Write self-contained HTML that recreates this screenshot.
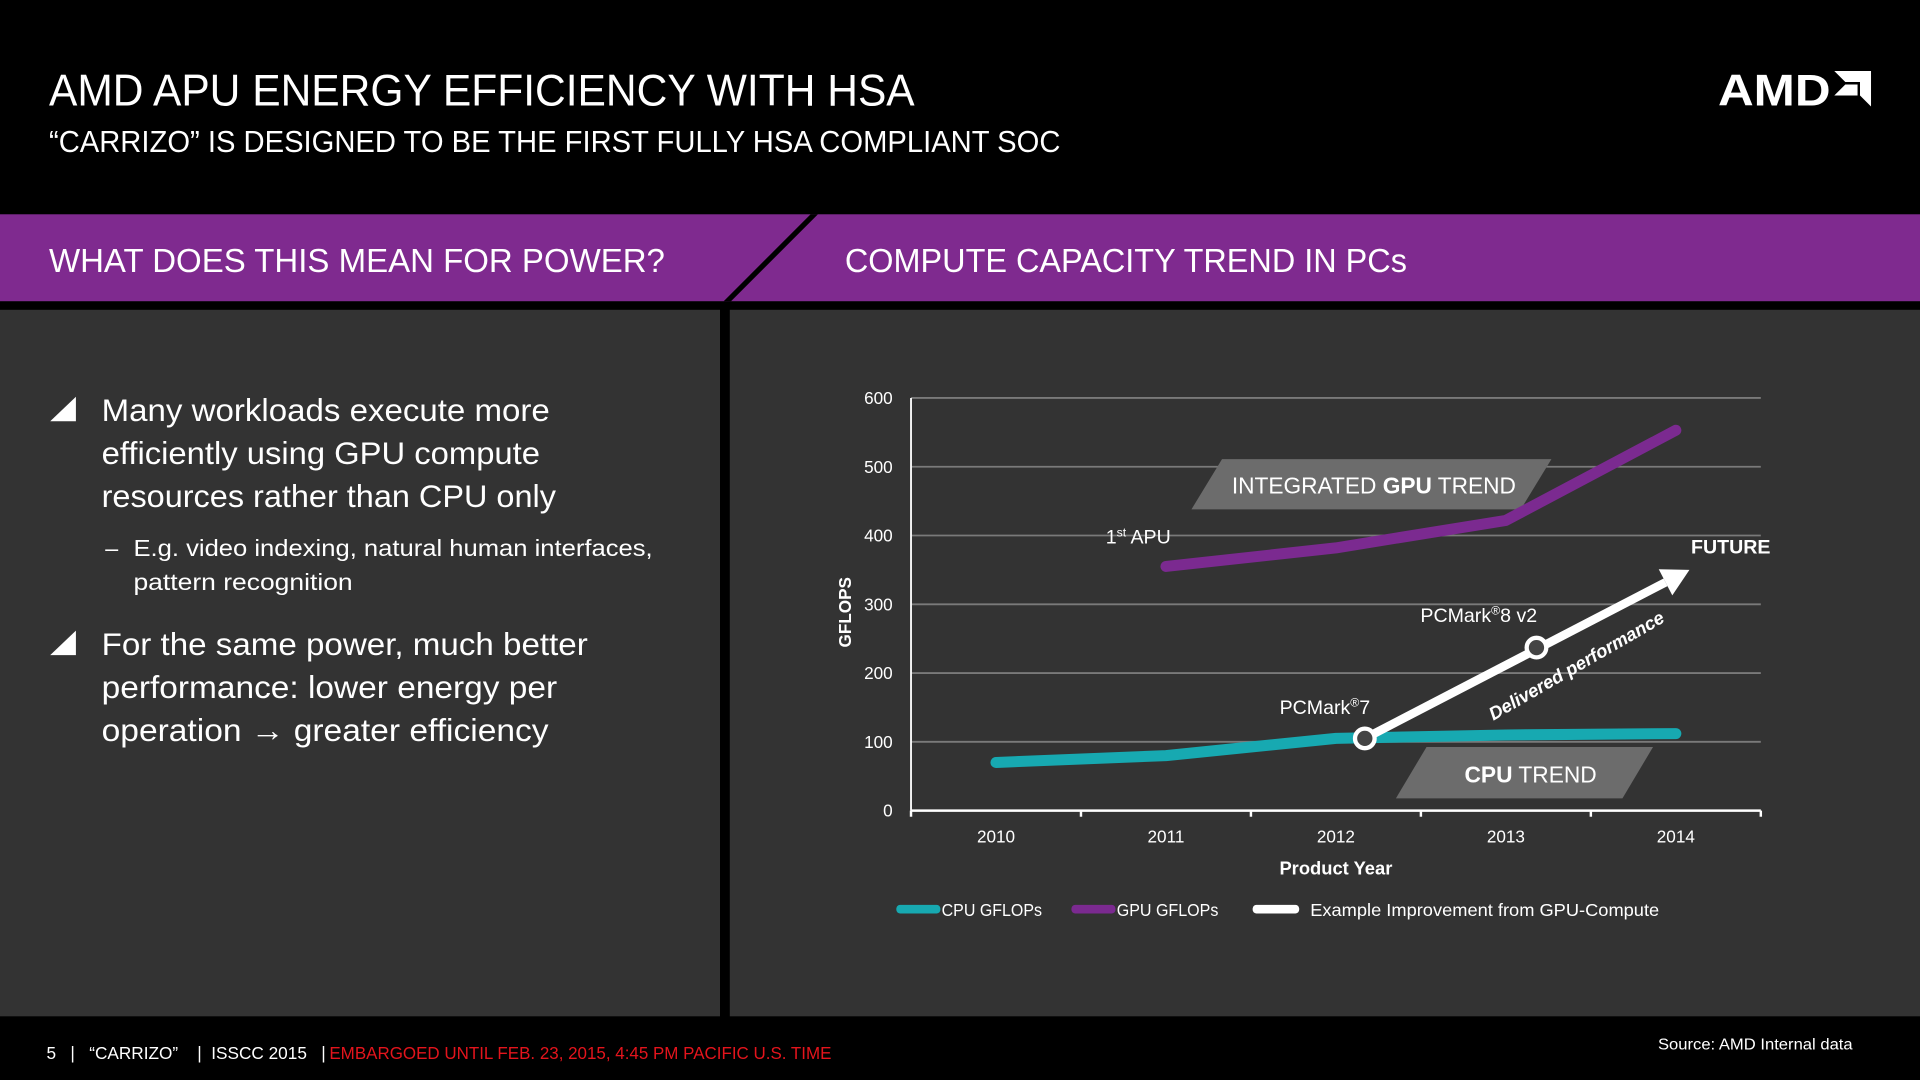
<!DOCTYPE html>
<html><head><meta charset="utf-8"><style>
html,body{margin:0;padding:0;background:#000;width:1920px;height:1080px;overflow:hidden}
svg{display:block;font-family:"Liberation Sans",sans-serif}
</style></head><body>
<svg id="slide" width="1920" height="1080" viewBox="0 0 1568 882" xmlns="http://www.w3.org/2000/svg">
<rect x="0" y="0" width="1568" height="882" fill="#000"/>
<text x="40" y="86" fill="#fff" font-size="36" textLength="707" lengthAdjust="spacingAndGlyphs">AMD APU ENERGY EFFICIENCY WITH HSA</text>
<text x="40" y="124" fill="#fff" font-size="25" textLength="826" lengthAdjust="spacingAndGlyphs">“CARRIZO” IS DESIGNED TO BE THE FIRST FULLY HSA COMPLIANT SOC</text>
<g>
<text x="1403" y="86" fill="#fff" font-size="36" font-weight="bold" textLength="92" lengthAdjust="spacingAndGlyphs">AMD</text>
<path d="M1498 58 L1528 58 L1528 87 L1519 78 L1519 67 L1507 67 Z M1498 78 L1507 69 L1517 69 L1517 78 Z" fill="#fff"/>
</g>
<rect x="0" y="175" width="1568" height="71" fill="#7f2a8f"/>
<polygon points="662,175 668,175 597,246 591,246" fill="#000"/>
<text x="40" y="222" fill="#fff" font-size="27" textLength="503" lengthAdjust="spacingAndGlyphs">WHAT DOES THIS MEAN FOR POWER?</text>
<text x="690" y="222" fill="#fff" font-size="27" textLength="459" lengthAdjust="spacingAndGlyphs">COMPUTE CAPACITY TREND IN PCs</text>
<rect x="0" y="253" width="588" height="577" fill="#333333"/>
<rect x="596" y="253" width="972" height="577" fill="#333333"/>
<g fill="#fff">
<polygon points="62,324 62,344 41,344" fill="#fff"/>
<text x="83" y="344" font-size="26" textLength="366" lengthAdjust="spacingAndGlyphs">Many workloads execute more</text>
<text x="83" y="379" font-size="26" textLength="358" lengthAdjust="spacingAndGlyphs">efficiently using GPU compute</text>
<text x="83" y="414" font-size="26" textLength="371" lengthAdjust="spacingAndGlyphs">resources rather than CPU only</text>
<text x="86" y="454" font-size="19">–</text>
<text x="109" y="454" font-size="19" textLength="424" lengthAdjust="spacingAndGlyphs">E.g. video indexing, natural human interfaces,</text>
<text x="109" y="482" font-size="19" textLength="179" lengthAdjust="spacingAndGlyphs">pattern recognition</text>
<polygon points="62,515 62,535 41,535" fill="#fff"/>
<text x="83" y="535" font-size="26" textLength="397" lengthAdjust="spacingAndGlyphs">For the same power, much better</text>
<text x="83" y="570" font-size="26" textLength="372" lengthAdjust="spacingAndGlyphs">performance: lower energy per</text>
<text x="83" y="605" font-size="26" textLength="365" lengthAdjust="spacingAndGlyphs">operation <tspan font-weight="bold">→</tspan> greater efficiency</text>
</g>
<g id="chart"></g>
<text x="38" y="865" fill="#fff" font-size="14" style="white-space:pre" xml:space="preserve" textLength="228" lengthAdjust="spacingAndGlyphs">5   |   “CARRIZO”    |  ISSCC 2015   |</text>
<text x="269" y="865" fill="#e3141c" font-size="14" textLength="410" lengthAdjust="spacingAndGlyphs">EMBARGOED UNTIL FEB. 23, 2015, 4:45 PM PACIFIC U.S. TIME</text>
<text x="1354" y="857" fill="#fff" font-size="13" textLength="159" lengthAdjust="spacingAndGlyphs">Source: AMD Internal data</text>
</svg>
<script>
const years = [2010, 2011, 2012, 2013, 2014];
const cpuValues = [70, 80, 105, 110, 112];
const gpuYears = [2011, 2012, 2013, 2014];
const gpuValues = [355, 382, 422, 553];
const arrowYears = [2012.17, 2013.18, 2014.08];
const arrowValues = [105, 237, 350];
const yTicks = [0, 100, 200, 300, 400, 500, 600];

const NS = 'http://www.w3.org/2000/svg';
const chart = document.getElementById('chart');
const X0 = 744, X1 = 1438, Y0 = 662, Y1 = 325, YMAX = 600;
const band = (X1 - X0) / years.length;
function xs(yr){ return X0 + band * (yr - years[0] + 0.5); }
function ys(v){ return Y0 - (v / YMAX) * (Y0 - Y1); }
function mk(tag, attrs, parent){
  const e = document.createElementNS(NS, tag);
  for (const k in attrs) e.setAttribute(k, attrs[k]);
  (parent || chart).appendChild(e);
  return e;
}
let e;
yTicks.forEach(t => {
  if (t > 0) {
    e = mk('line', {x1: X0, x2: X1, y1: ys(t), y2: ys(t), stroke: '#7a7a7a', 'stroke-width': 1.5});
    
    
  }
  e = mk('text', {x: 729, y: ys(t) + 5, fill: '#fff', 'font-size': 14, 'text-anchor': 'end'});
  e.textContent = t;
  
  
});
e = mk('line', {x1: X0, x2: X0, y1: Y1, y2: Y0, stroke: '#fff', 'stroke-width': 1.5});


e = mk('line', {x1: X0, x2: X1, y1: Y0, y2: Y0, stroke: '#fff', 'stroke-width': 2});


for (let i = 0; i <= years.length; i++) {
  const x = X0 + band * i;
  e = mk('line', {x1: x, x2: x, y1: Y0, y2: Y0 + 5, stroke: '#fff', 'stroke-width': 2});
  
  
}
years.forEach(yr => {
  e = mk('text', {x: xs(yr), y: 688, fill: '#fff', 'font-size': 14, 'text-anchor': 'middle'});
  e.textContent = yr;
  
  
});
e = mk('text', {x: 1091, y: 714, fill: '#fff', 'font-size': 15, 'font-weight': 'bold', 'text-anchor': 'middle'});
e.textContent = 'Product Year';


e = mk('text', {x: 0, y: 0, fill: '#fff', 'font-size': 14, 'font-weight': 'bold', 'text-anchor': 'middle', transform: 'translate(695,500) rotate(-90)'});
e.textContent = 'GFLOPS';



e = mk('polygon', {points: '998,375 1267,375 1242,416 973,416', fill: '#6c6c6c'});


e = mk('text', {x: 1006, y: 403, fill: '#fff', 'font-size': 19, textLength: 232, lengthAdjust: 'spacingAndGlyphs'});
e.innerHTML = 'INTEGRATED <tspan font-weight="bold">GPU</tspan> TREND';


e = mk('polygon', {points: '1165,610 1350,610 1325,652 1140,652', fill: '#6c6c6c'});


e = mk('text', {x: 1196, y: 639, fill: '#fff', 'font-size': 19, textLength: 108, lengthAdjust: 'spacingAndGlyphs'});
e.innerHTML = '<tspan font-weight="bold">CPU</tspan> TREND';



function pathOf(xv, yv){ return xv.map((x, i) => (i ? 'L' : 'M') + xs(x) + ' ' + ys(yv[i])).join(' '); }
e = mk('path', {d: pathOf(years, cpuValues), fill: 'none', stroke: '#17a9b1', 'stroke-width': 9, 'stroke-linejoin': 'round', 'stroke-linecap': 'round'});


e = mk('path', {d: pathOf(gpuYears, gpuValues), fill: 'none', stroke: '#7b2a90', 'stroke-width': 9, 'stroke-linejoin': 'round', 'stroke-linecap': 'round'});



const ax1 = xs(arrowYears[0]), ay1 = ys(arrowValues[0]);
const ax2 = xs(arrowYears[2]), ay2 = ys(arrowValues[2]);
const ang = Math.atan2(ay2 - ay1, ax2 - ax1);
const hl = 22, hw = 12;
const bx = ax2 - hl * Math.cos(ang), by = ay2 - hl * Math.sin(ang);
e = mk('line', {x1: ax1, y1: ay1, x2: bx, y2: by, stroke: '#fff', 'stroke-width': 7});


const px = -Math.sin(ang), py = Math.cos(ang);
e = mk('polygon', {points: `${ax2},${ay2} ${bx + px * hw},${by + py * hw} ${bx - px * hw},${by - py * hw}`, fill: '#fff'});


for (let i = 0; i < 2; i++) {
  e = mk('circle', {cx: xs(arrowYears[i]), cy: ys(arrowValues[i]), r: 8, fill: '#444', stroke: '#fff', 'stroke-width': 3.5});
  
  
}
function label(x, y, html, size, extra){
  const a = Object.assign({x: x, y: y, fill: '#fff', 'font-size': size}, extra || {});
  const t = mk('text', a);
  t.innerHTML = html;
  return t;
}
e = label(903, 444, '1<tspan font-size="10" dy="-6">st</tspan><tspan dy="6"> APU</tspan>', 16);


e = label(1160, 508, 'PCMark<tspan font-size="10" dy="-6">®</tspan><tspan dy="6">8 v2</tspan>', 16);


e = label(1045, 583, 'PCMark<tspan font-size="10" dy="-6">®</tspan><tspan dy="6">7</tspan>', 16);


e = label(1381, 452, 'FUTURE', 16, {'font-weight': 'bold'});


e = label(0, 0, 'Delivered performance', 15, {'font-weight': 'bold', 'font-style': 'italic', 'text-anchor': 'middle', transform: 'translate(1290,548) rotate(-30)'});



const lg = [
  {n: 'legend-cpu', c: '#17a9b1', sx: 732, sw: 36, tx: 769, t: 'CPU GFLOPs', tw: 82},
  {n: 'legend-gpu', c: '#7b2a90', sx: 875, sw: 36, tx: 912, t: 'GPU GFLOPs', tw: 83},
  {n: 'legend-example', c: '#ffffff', sx: 1023, sw: 38, tx: 1070, t: 'Example Improvement from GPU-Compute', tw: 285}
];
lg.forEach(l => {
  const g = mk('g', {});
  
  
  mk('rect', {x: l.sx, y: 739, width: l.sw, height: 7, rx: 3, fill: l.c}, g);
  const t = mk('text', {x: l.tx, y: 748, fill: '#fff', 'font-size': 14, textLength: l.tw, lengthAdjust: 'spacingAndGlyphs'}, g);
  t.textContent = l.t;
});
</script>
</body></html>
